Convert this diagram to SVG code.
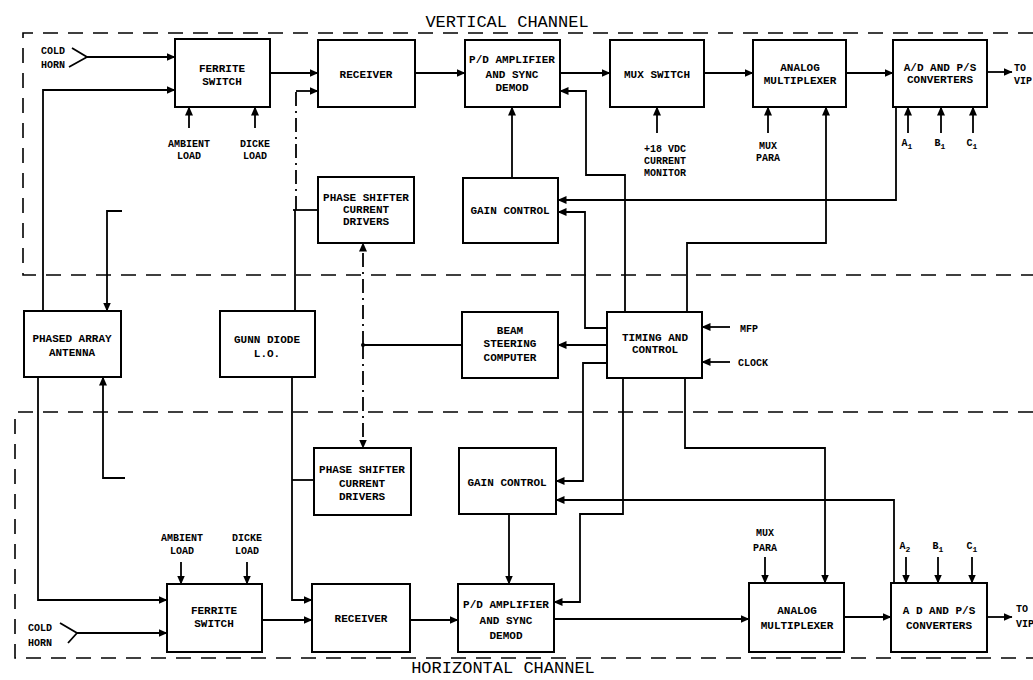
<svg xmlns="http://www.w3.org/2000/svg" width="1033" height="680" viewBox="0 0 1033 680">
<defs>
<marker id="ah" markerUnits="userSpaceOnUse" markerWidth="9" markerHeight="8" refX="8.5" refY="4" orient="auto">
<path d="M0,0 L9,4 L0,8 z" fill="#000"/>
</marker>
<style>
.box{fill:#fff;stroke:#000;stroke-width:2}
.ln{fill:none;stroke:#000;stroke-width:1.8}
.a{marker-end:url(#ah)}
.dd{stroke-dasharray:14 5 2 5}
.bd{fill:none;stroke:#000;stroke-width:1.6;stroke-dasharray:15 10}
.t{font-family:"Liberation Mono",monospace;font-weight:bold;font-size:11px;text-anchor:middle;fill:#000}
.s{font-family:"Liberation Mono",monospace;font-weight:bold;font-size:10px;text-anchor:middle;fill:#000}
.sl{font-family:"Liberation Mono",monospace;font-weight:bold;font-size:10px;fill:#000}
.h{font-family:"Liberation Mono",monospace;font-size:17px;text-anchor:middle;fill:#000}
</style>
</defs>
<rect width="1033" height="680" fill="#fff"/>

<g id="channels">
<path class="bd" d="M1033,33 H23 V275 H1033"/>
<path class="bd" d="M1033,412 H15 V658 H1033"/>
<text class="h" x="507" y="27">VERTICAL CHANNEL</text>
<text class="h" x="503" y="673">HORIZONTAL CHANNEL</text>
</g>

<g id="connectors">
<!-- vertical channel -->
<path class="ln" d="M72,48 L87,57 L69,67"/>
<path class="ln a" d="M87,57 H175"/>
<path class="ln a" d="M43,311 V90 H175"/>
<path class="ln a" d="M189,128 V107"/>
<path class="ln a" d="M255,128 V107"/>
<path class="ln a" d="M270,73 H318"/>
<path class="ln" d="M295,311 V210"/>
<path class="ln dd" d="M296,210 V91"/>
<path class="ln a" d="M296,91 H318"/>
<path class="ln" d="M293,210 H318"/>
<path class="ln a" d="M415,73 H465"/>
<path class="ln a" d="M560,73 H610"/>
<path class="ln a" d="M704,73 H753"/>
<path class="ln a" d="M846,73 H893"/>
<path class="ln a" d="M987,72 H1012"/>
<path class="ln a" d="M657,133 V107"/>
<path class="ln a" d="M768,133 V107"/>
<path class="ln a" d="M908,133 V107"/>
<path class="ln a" d="M941,133 V107"/>
<path class="ln a" d="M973,133 V107"/>
<path class="ln a" d="M512,178 V107"/>
<path class="ln a" d="M896,107 V200 H558"/>
<path class="ln a" d="M607,328 H585 V212 H558"/>
<path class="ln a" d="M625,312 V175 H586 V91 H560"/>
<path class="ln a" d="M687,312 V243 H826 V107"/>
<!-- middle -->
<path class="ln a" d="M730,327 H702"/>
<path class="ln a" d="M730,362 H702"/>
<path class="ln a" d="M607,345 H558"/>
<path class="ln" d="M462,345 H363"/>
<circle cx="363" cy="345" r="2" fill="#000"/>
<path class="ln dd a" d="M363,345 V243"/>
<path class="ln dd a" d="M363,345 V448"/>
<path class="ln a" d="M122,211 H107 V311"/>
<path class="ln a" d="M125,478 H103 V377"/>
<!-- horizontal channel -->
<path class="ln a" d="M38,377 V600 H167"/>
<path class="ln" d="M60,623 L77,633 L68,643"/>
<path class="ln a" d="M77,633 H167"/>
<path class="ln a" d="M181,562 V584"/>
<path class="ln a" d="M247,562 V584"/>
<path class="ln a" d="M262,620 H312"/>
<path class="ln a" d="M292,377 V600 H312"/>
<path class="ln" d="M292,480 H314"/>
<path class="ln a" d="M410,620 H458"/>
<path class="ln a" d="M509,514 V584"/>
<path class="ln a" d="M607,363 H583 V481 H556"/>
<path class="ln a" d="M623,378 V514 H580 V602 H554"/>
<path class="ln a" d="M894,583 V500 H556"/>
<path class="ln a" d="M685,378 V448 H825 V583"/>
<path class="ln a" d="M554,619 H749"/>
<path class="ln a" d="M844,617 H891"/>
<path class="ln a" d="M987,617 H1012"/>
<path class="ln a" d="M765,557 V583"/>
<path class="ln a" d="M906,557 V583"/>
<path class="ln a" d="M938,557 V583"/>
<path class="ln a" d="M972,557 V583"/>
</g>

<g id="ferrite-v"><rect class="box" x="175" y="39" width="95" height="68"/><text class="t" x="222" y="72">FERRITE</text><text class="t" x="222" y="85">SWITCH</text></g>
<g id="receiver-v"><rect class="box" x="318" y="40" width="97" height="67"/><text class="t" x="366" y="78">RECEIVER</text></g>
<g id="pd-v"><rect class="box" x="465" y="40" width="95" height="67"/><text class="t" x="512" y="62.5">P/D AMPLIFIER</text><text class="t" x="512" y="77.5">AND SYNC</text><text class="t" x="512" y="91">DEMOD</text></g>
<g id="mux-switch"><rect class="box" x="610" y="40" width="94" height="67"/><text class="t" x="657" y="78">MUX SWITCH</text></g>
<g id="amux-v"><rect class="box" x="753" y="40" width="93" height="67"/><text class="t" x="800" y="70.5">ANALOG</text><text class="t" x="800" y="83.5">MULTIPLEXER</text></g>
<g id="ad-v"><rect class="box" x="893" y="40" width="94" height="67"/><text class="t" x="940" y="70.5">A/D AND P/S</text><text class="t" x="940" y="83">CONVERTERS</text></g>
<g id="phase-v"><rect class="box" x="318" y="177" width="96" height="66"/><text class="t" x="366" y="200.5">PHASE SHIFTER</text><text class="t" x="366" y="212.5">CURRENT</text><text class="t" x="366" y="224.5">DRIVERS</text></g>
<g id="gain-v"><rect class="box" x="463" y="178" width="95" height="65"/><text class="t" x="510" y="214">GAIN CONTROL</text></g>
<g id="antenna"><rect class="box" x="24" y="311" width="97" height="66"/><text class="t" x="72" y="341.5">PHASED ARRAY</text><text class="t" x="72" y="355.5">ANTENNA</text></g>
<g id="gunn"><rect class="box" x="220" y="311" width="95" height="66"/><text class="t" x="267" y="342.5">GUNN DIODE</text><text class="t" x="267" y="356.5">L.O.</text></g>
<g id="beam"><rect class="box" x="462" y="312" width="96" height="66"/><text class="t" x="510" y="333.5">BEAM</text><text class="t" x="510" y="346.5">STEERING</text><text class="t" x="510" y="360.5">COMPUTER</text></g>
<g id="timing"><rect class="box" x="607" y="312" width="95" height="66"/><text class="t" x="655" y="340.5">TIMING AND</text><text class="t" x="655" y="353">CONTROL</text></g>
<g id="phase-h"><rect class="box" x="314" y="448" width="97" height="67"/><text class="t" x="362" y="472.5">PHASE SHIFTER</text><text class="t" x="362" y="486.5">CURRENT</text><text class="t" x="362" y="499.5">DRIVERS</text></g>
<g id="gain-h"><rect class="box" x="459" y="448" width="97" height="66"/><text class="t" x="507" y="485.5">GAIN CONTROL</text></g>
<g id="ferrite-h"><rect class="box" x="167" y="584" width="95" height="68"/><text class="t" x="214" y="613.5">FERRITE</text><text class="t" x="214" y="626.5">SWITCH</text></g>
<g id="receiver-h"><rect class="box" x="312" y="584" width="98" height="68"/><text class="t" x="361" y="621.5">RECEIVER</text></g>
<g id="pd-h"><rect class="box" x="458" y="584" width="96" height="68"/><text class="t" x="506" y="607.5">P/D AMPLIFIER</text><text class="t" x="506" y="623.5">AND SYNC</text><text class="t" x="506" y="638.5">DEMOD</text></g>
<g id="amux-h"><rect class="box" x="749" y="583" width="95" height="69"/><text class="t" x="797" y="613.5">ANALOG</text><text class="t" x="797" y="628.5">MULTIPLEXER</text></g>
<g id="ad-h"><rect class="box" x="891" y="583" width="96" height="69"/><text class="t" x="939" y="613.5">A D AND P/S</text><text class="t" x="939" y="628.5">CONVERTERS</text></g>

<g id="labels">
<text class="s" x="53" y="53.5">COLD</text><text class="s" x="53" y="67.5">HORN</text>
<text class="s" x="189" y="146.5">AMBIENT</text><text class="s" x="189" y="158.5">LOAD</text>
<text class="s" x="255" y="146.5">DICKE</text><text class="s" x="255" y="158.5">LOAD</text>
<text class="s" x="665" y="151.5">+18 VDC</text><text class="s" x="665" y="163.5">CURRENT</text><text class="s" x="665" y="175.5">MONITOR</text>
<text class="s" x="768" y="148.5">MUX</text><text class="s" x="768" y="160.5">PARA</text>
<text class="s" x="907" y="145.5">A<tspan font-size="8" dy="3">1</tspan></text>
<text class="s" x="940" y="145.5">B<tspan font-size="8" dy="3">1</tspan></text>
<text class="s" x="972" y="145.5">C<tspan font-size="8" dy="3">1</tspan></text>
<text class="sl" x="1014" y="70.5">TO</text><text class="sl" x="1014" y="84">VIP</text>
<text class="sl" x="740" y="331.5">MFP</text>
<text class="sl" x="738" y="365.5">CLOCK</text>
<text class="s" x="182" y="540.5">AMBIENT</text><text class="s" x="182" y="553.5">LOAD</text>
<text class="s" x="247" y="540.5">DICKE</text><text class="s" x="247" y="553.5">LOAD</text>
<text class="s" x="40" y="630.5">COLD</text><text class="s" x="40" y="645.5">HORN</text>
<text class="s" x="765" y="535.5">MUX</text><text class="s" x="765" y="550.5">PARA</text>
<text class="s" x="905" y="549">A<tspan font-size="8" dy="3">2</tspan></text>
<text class="s" x="938" y="549">B<tspan font-size="8" dy="3">1</tspan></text>
<text class="s" x="972" y="549">C<tspan font-size="8" dy="3">1</tspan></text>
<text class="sl" x="1016" y="611.5">TO</text><text class="sl" x="1016" y="626.5">VIP</text>
</g>
</svg>
